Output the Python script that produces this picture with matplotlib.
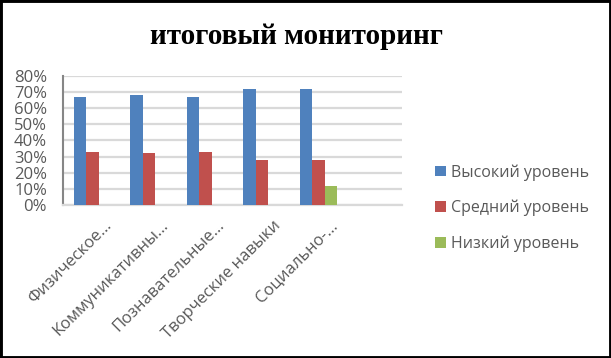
import matplotlib
matplotlib.use("Agg")
import matplotlib.pyplot as plt
import numpy as np
from matplotlib.patches import Rectangle

categories = ["Физическое…", "Коммуникативны…", "Познавательные…",
              "Творческие навыки", "Социально-…", ""]
high = [0.67, 0.68, 0.67, 0.72, 0.72, np.nan]
mid = [0.33, 0.32, 0.33, 0.28, 0.28, np.nan]
low = [0.0, 0.0, 0.0, 0.0, 0.12, np.nan]
series_names = ["Высокий уровень", "Средний уровень", "Низкий уровень"]
colors = ["#4F81BD", "#C0504D", "#9BBB59"]
yticks = [0, 0.1, 0.2, 0.3, 0.4, 0.5, 0.6, 0.7, 0.8]
ytick_labels = ["0%", "10%", "20%", "30%", "40%", "50%", "60%", "70%", "80%"]
title = "итоговый мониторинг"

plt.rcParams["font.family"] = ["Open Sans", "DejaVu Sans"]

W, H = 611, 358
fig = plt.figure(figsize=(W / 100, H / 100), dpi=100)
ax = fig.add_axes([63 / W, 1 - 205 / H, (402 - 63) / W, (205 - 75.7) / H])

x = np.arange(len(categories))
bw = 0.22
for i, (vals, c, name) in enumerate(zip([high, mid, low], colors, series_names)):
    ax.bar(x + (i - 0.9) * bw, vals, width=bw, color=c, label=name, zorder=3)

ax.set_xlim(-0.5, len(categories) - 0.5)
ax.set_ylim(0, 0.8)
ax.set_yticks(yticks)
ax.set_yticklabels(ytick_labels)
ax.yaxis.grid(True, color="#D9D9D9", linewidth=1.6, zorder=0)
ax.set_axisbelow(True)
ax.tick_params(axis="y", length=0, pad=11.5, labelsize=12, labelcolor="#595959")
ax.tick_params(axis="x", length=0, pad=9, labelsize=12, labelcolor="#595959")
ax.set_xticks(x + 0.22)
ax.set_xticklabels(categories, rotation=45, ha="right", va="top",
                   rotation_mode="anchor")
for s in ["top", "right"]:
    ax.spines[s].set_visible(False)
ax.spines["left"].set_color("#868686")
ax.spines["left"].set_linewidth(1.5)
ax.spines["bottom"].set_color("#D9D9D9")
ax.spines["bottom"].set_linewidth(1.6)

fig.text(297 / W, 1 - 36 / H, title, ha="center", va="center",
         fontsize=21, fontweight="bold", family="Liberation Serif", color="black")

leg = ax.legend(loc="center left", bbox_to_anchor=(421 / W, 1 - 208 / H),
                bbox_transform=fig.transFigure, frameon=False, fontsize=11.5,
                handlelength=0.65, handleheight=0.65, handletextpad=0.35,
                labelspacing=1.2, labelcolor="#595959")

fig.patches.append(Rectangle((0, 0), 1, 1, transform=fig.transFigure,
                             fill=False, edgecolor="black", linewidth=3.5))

fig.savefig("out.png", dpi=100)
